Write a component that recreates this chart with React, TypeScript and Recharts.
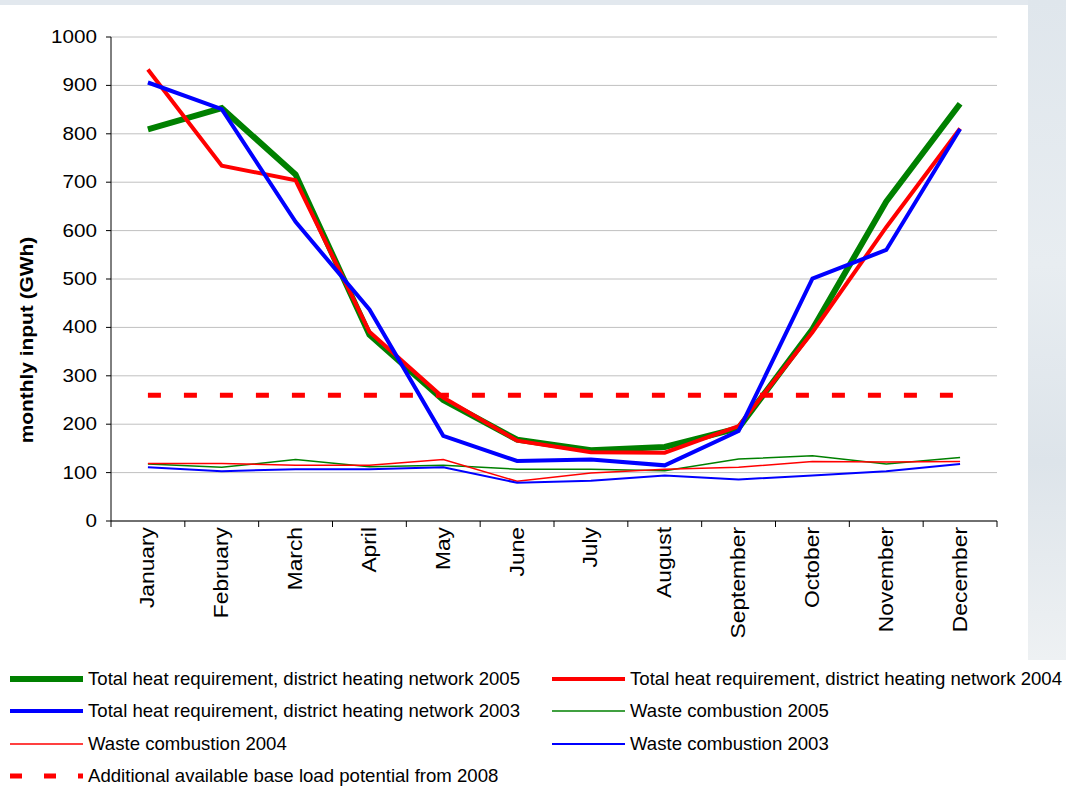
import React from "react";
import { LineChart, Line, XAxis, YAxis, CartesianGrid } from "recharts";

const months = [
  "January",
  "February",
  "March",
  "April",
  "May",
  "June",
  "July",
  "August",
  "September",
  "October",
  "November",
  "December",
];

const total2005 = [809, 853, 716, 385, 250, 168, 146, 153, 192, 396, 660, 862];
const total2004 = [933, 734, 704, 391, 255, 166, 142, 141, 196, 390, 607, 811];
const total2003 = [906, 851, 618, 437, 176, 124, 127, 115, 186, 501, 560, 810];
const waste2005 = [118, 111, 127, 112, 115, 107, 107, 104, 128, 135, 118, 131];
const waste2004 = [119, 119, 115, 115, 127, 82, 99, 107, 111, 123, 122, 123];
const waste2003 = [111, 103, 107, 107, 111, 79, 83, 94, 86, 94, 103, 118];
const baseLoad = [260, 260, 260, 260, 260, 260, 260, 260, 260, 260, 260, 260];

const yTicks = [0, 100, 200, 300, 400, 500, 600, 700, 800, 900, 1000];
const bandTicks = [0, 1, 2, 3, 4, 5, 6, 7, 8, 9, 10, 11, 12];
const labelTicks = months.map((_, i) => i + 0.5);

const data = months.map((m, i) => ({
  x: i + 0.5,
  month: m,
  total2005: total2005[i],
  total2004: total2004[i],
  total2003: total2003[i],
  waste2005: waste2005[i],
  waste2004: waste2004[i],
  waste2003: waste2003[i],
  baseLoad: baseLoad[i],
}));

const FONT = "'Liberation Sans', Arial, Helvetica, sans-serif";

// legend entries, two columns like the original
const legendCol1 = [
  { name: "Total heat requirement, district heating network 2005", color: "#008000", width: 6 },
  { name: "Total heat requirement, district heating network 2003", color: "#0000ff", width: 4 },
  { name: "Waste combustion 2004", color: "#ff0000", width: 1.5 },
  { name: "Additional available base load potential from 2008", color: "#ff0000", width: 5, dashed: true },
];
const legendCol2 = [
  { name: "Total heat requirement, district heating network 2004", color: "#ff0000", width: 4 },
  { name: "Waste combustion 2005", color: "#008000", width: 1.5 },
  { name: "Waste combustion 2003", color: "#0000ff", width: 2 },
];
const rowY = [679, 711, 744, 776];

// the source image is slightly stretched, so text is widened a bit
function MonthTick(props: any) {
  const { x, y, payload } = props;
  const label = months[Math.round(payload.value - 0.5)];
  return (
    <text
      transform={`translate(${x},${y}) rotate(-90) scale(1.14,1)`}
      textAnchor="end"
      dominantBaseline="central"
      fontSize={20}
      fontFamily={FONT}
      fill="#000"
    >
      {label}
    </text>
  );
}

function ValueTick(props: any) {
  const { x, y, payload } = props;
  return (
    <text
      transform={`translate(${x},${y}) scale(1.18,1)`}
      textAnchor="end"
      dominantBaseline="central"
      fontSize={17.5}
      fontFamily={FONT}
      fill="#000"
    >
      {payload.value}
    </text>
  );
}

function YLabel(props: any) {
  const { viewBox } = props;
  const cx = viewBox.x + 26;
  const cy = viewBox.y + viewBox.height / 2 + 61;
  return (
    <text
      transform={`translate(${cx},${cy}) rotate(-90) scale(1.1,1)`}
      textAnchor="middle"
      dominantBaseline="central"
      fontSize={19}
      fontWeight="bold"
      fontFamily={FONT}
      fill="#000"
    >
      monthly input (GWh)
    </text>
  );
}

function LegendItem({ item, left, top }: any) {
  return (
    <div
      style={{
        position: "absolute",
        left,
        top: top - 12,
        height: 24,
        display: "flex",
        alignItems: "center",
        whiteSpace: "nowrap",
      }}
    >
      <svg width={73} height={24} style={{ display: "block" }}>
        <line
          x1={0}
          x2={73}
          y1={12}
          y2={12}
          stroke={item.color}
          strokeWidth={item.width}
          strokeDasharray={item.dashed ? "12 22" : undefined}
        />
      </svg>
      <span style={{ marginLeft: 5, fontSize: 18.6, fontFamily: FONT, color: "#000" }}>
        {item.name}
      </span>
    </div>
  );
}

export default function App() {
  return (
    <div
      style={{
        position: "absolute",
        left: 0,
        top: 0,
        width: 1066,
        height: 787,
        background: "#fff",
        overflow: "hidden",
      }}
    >
      <div
        style={{
          position: "absolute",
          left: 1028,
          top: 0,
          width: 38,
          height: 660,
          background: "linear-gradient(180deg, #dfe6ec 0%, #e8edf1 40%, #dde4ea 70%, #eef1f3 100%)",
        }}
      />
      <div
        style={{
          position: "absolute",
          left: 0,
          top: 0,
          width: 1028,
          height: 5,
          background: "#e2e8ee",
        }}
      />
      <div style={{ position: "absolute", left: 0, top: 0 }}>
        <LineChart
          width={1066}
          height={660}
          data={data}
          margin={{ top: 37, right: 69, bottom: 0, left: 0 }}
        >
          <CartesianGrid vertical={false} stroke="#c0c0c0" />
          <XAxis
            dataKey="x"
            type="number"
            domain={[0, 12]}
            ticks={bandTicks}
            tickFormatter={() => ""}
            height={6}
            tickSize={6}
            stroke="#000"
            allowDataOverflow
          />
          <XAxis
            xAxisId="labels"
            dataKey="x"
            type="number"
            domain={[0, 12]}
            ticks={labelTicks}
            height={133}
            tickSize={0}
            tickMargin={0}
            axisLine={false}
            tickLine={false}
            interval={0}
            tick={<MonthTick />}
            allowDataOverflow
          />
          <YAxis
            domain={[0, 1000]}
            ticks={yTicks}
            width={111}
            tickSize={5}
            tickMargin={9}
            stroke="#000"
            tick={<ValueTick />}
            interval={0}
            label={<YLabel />}
          />
          <Line dataKey="waste2005" stroke="#008000" strokeWidth={1.5} dot={false} isAnimationActive={false} />
          <Line dataKey="waste2004" stroke="#ff0000" strokeWidth={1.5} dot={false} isAnimationActive={false} />
          <Line dataKey="waste2003" stroke="#0000ff" strokeWidth={2} dot={false} isAnimationActive={false} />
          <Line dataKey="total2005" stroke="#008000" strokeWidth={6} dot={false} isAnimationActive={false} />
          <Line dataKey="total2004" stroke="#ff0000" strokeWidth={4} dot={false} isAnimationActive={false} />
          <Line dataKey="total2003" stroke="#0000ff" strokeWidth={4} dot={false} isAnimationActive={false} />
          <Line
            dataKey="baseLoad"
            stroke="#ff0000"
            strokeWidth={5}
            strokeDasharray="13 23"
            dot={false}
            isAnimationActive={false}
          />
        </LineChart>
      </div>
      {legendCol1.map((item, i) => (
        <LegendItem key={item.name} item={item} left={10} top={rowY[i]} />
      ))}
      {legendCol2.map((item, i) => (
        <LegendItem key={item.name} item={item} left={552} top={rowY[i]} />
      ))}
    </div>
  );
}
